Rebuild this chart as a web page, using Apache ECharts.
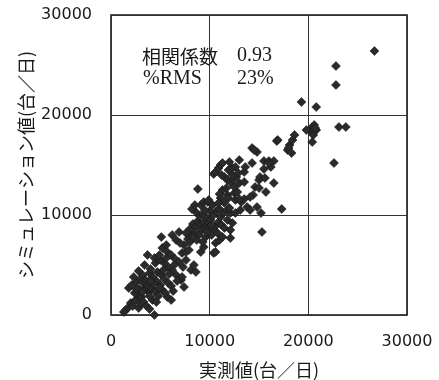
<!DOCTYPE html>
<html>
<head>
<meta charset="utf-8">
<script src="https://cdn.jsdelivr.net/npm/echarts@6/dist/echarts.min.js"></script>
<style>
html,body{margin:0;padding:0;background:#fff;}
#chart{width:439px;height:380px;}
</style>
</head>
<body>
<div id="chart"></div>
<script>
const xAxisName = '実測値(台／日)';
const yAxisName = 'シミュレーション値(台／日)';
const tickValues = [0, 10000, 20000, 30000];
const statLabels = ['相関係数', '%RMS'];
const statValues = ['0.93', '23%'];

const lowerPoints = [
[1500,500],[1700,700],[1300,300],[2000,1200],[2200,900],[2500,1500],[2800,700],[3000,1100],[2700,2000],[3100,1800],
[3300,1300],[3600,900],[3900,600],[4400,0],[4200,1500],[3800,2300],[3500,2700],[2900,2600],[2400,2200],[1800,2700],
[2100,3000],[2600,3300],[3000,3600],[3300,3200],[3700,3000],[4100,2700],[4500,2300],[4800,1900],[5200,2500],[5700,1800],
[6100,1500],[5000,3000],[4600,3400],[4200,3800],[3900,4200],[3400,5000],[3700,6000],[4400,5700],[4500,5200],[4000,4600],
[4700,4300],[5100,4000],[5400,3600],[5800,3200],[6100,2900],[7100,3500],[7400,2800],[7200,3800],[6600,4000],[6200,4500],
[5800,4800],[5400,5200],[5000,5500],[4900,6000],[5200,6700],[5600,7000],[5700,6300],[6100,6000],[6500,5600],[6900,5300],
[7300,4800],[8100,4500],[8600,4300],[8400,5000],[7600,5500],[7200,6200],[7600,6300],[7900,6500],[5100,7800],[6200,8000],
[6600,7500],[6900,8300],[3200,4000],[2800,4400],[2300,3800],[3500,3500],[4300,3100],[4900,2700],[5500,2200],[6300,2400],
[3900,1900],[3200,2300],[2600,2600],[4600,1300],[4000,3400],[5300,4500],[5900,4100],[6700,3400],[6400,5000],[5600,5700]
];
const middlePoints = [
[7400,7000],[7800,7600],[8100,8100],[8000,8600],[8300,9100],[8600,8800],[8800,9400],[9100,9000],[9400,9300],[9700,9700],
[9900,9200],[10100,9500],[8500,8200],[8900,8000],[9200,8500],[9600,8700],[10000,8800],[10300,8600],[10600,8900],[10900,9300],
[11200,9000],[11500,8700],[11800,9500],[12100,8500],[12300,9200],[9000,9900],[9300,10100],[8600,10300],[8200,10600],[8500,11000],
[9100,11000],[9400,11300],[9800,11300],[9900,11500],[8800,12600],[10600,7200],[11000,7500],[11300,7800],[12100,7700],[9100,6300],
[9400,6800],[10400,6200],[10600,6300],[7000,7200],[7600,8200],[8000,7300],[8700,7500],[9600,7800],[10200,8000],[10800,8200],
[11100,9800],[11400,10200],[11800,10500],[12100,10200],[10400,10000],[10700,10400],[11000,10600],[10000,10400],[9500,10500],[10300,11000],
[11100,11700],[11500,11200],[12000,10700],[12600,10200],[13100,10500],[13800,10800],[14100,10500],[14800,10800],[15200,10200],[15300,8300],
[10200,9000],[9700,8300],[9300,7300],[8300,7800],[11800,12000],[12500,12200],[12800,12300],[11300,12500],[12500,12800],[11000,12100],
[11900,11700],[12600,11500],[13200,11300],[13500,11600],[10900,11200]
];
const upperPoints = [
[10400,14100],[10600,14300],[10900,14700],[11100,15000],[11300,15200],[11500,13800],[11800,13500],[12100,13300],[12400,13600],[12700,13800],
[12300,14000],[11900,14500],[12300,14700],[12600,14800],[13500,14300],[13000,13200],[13500,13300],[13000,11600],[14400,12000],[14600,12800],
[15000,13500],[15100,13800],[15500,14600],[15600,13700],[16500,13200],[15000,12700],[14300,15200],[14300,16700],[14800,16300],[14500,16500],
[15500,15400],[16000,15400],[16500,15400],[16200,14800],[16000,15200],[16800,17400],[16900,17500],[17300,10600],[17900,16500],[18100,17000],
[18000,16700],[18400,17500],[18600,18000],[18300,16200],[12000,15300],[13000,15500],[13600,14800],[11700,12700],[14100,11800],[15700,12300],
[11200,14000],[12900,14200]
];
const highPoints = [
[20400,18800],[20600,19000],[20800,18500],[20300,18300],[20500,18000],[20700,18700],[20400,17300],[19300,21300],[20800,20800],[22800,24900],
[22800,23000],[26700,26400],[23100,18800],[23800,18800],[22600,15200],[19800,18500]
];

const allPoints = lowerPoints.concat(middlePoints, upperPoints, highPoints);

const chart = echarts.init(document.getElementById('chart'), null, {renderer: 'canvas'});
const tickFont = {fontFamily: 'DejaVu Sans', fontSize: 16, color: '#1a1a1a', formatter: function (v) { return String(v); }};
const cjkFont = 'Noto Sans CJK JP';

chart.setOption({
  animation: false,
  backgroundColor: '#fff',
  grid: {left: 111, top: 15, right: 32, bottom: 65, containLabel: false, outerBoundsMode: 'none',
         show: true, borderColor: '#111', borderWidth: 1.5, backgroundColor: 'transparent'},
  xAxis: {
    type: 'value', min: tickValues[0], max: tickValues[tickValues.length - 1], interval: 10000,
    name: xAxisName, nameLocation: 'middle', nameGap: 46, nameMoveOverlap: false,
    nameTextStyle: {fontFamily: cjkFont, fontSize: 18, color: '#1a1a1a'},
    axisLine: {show: false}, axisTick: {show: false},
    axisLabel: Object.assign({margin: 19}, tickFont),
    splitLine: {show: true, lineStyle: {color: '#333', width: 1}}
  },
  yAxis: {
    type: 'value', min: tickValues[0], max: tickValues[tickValues.length - 1], interval: 10000,
    name: yAxisName, nameLocation: 'middle', nameGap: 76, nameRotate: 90, nameMoveOverlap: false,
    nameTextStyle: {fontFamily: cjkFont, fontSize: 18, color: '#1a1a1a'},
    axisLine: {show: false}, axisTick: {show: false},
    axisLabel: Object.assign({margin: 19}, tickFont),
    splitLine: {show: true, lineStyle: {color: '#333', width: 1}}
  },
  graphic: [
    {type: 'text', left: 142, top: 47, style: {text: statLabels[0], font: '19px "Noto Sans CJK JP"', fill: '#1a1a1a'}},
    {type: 'text', left: 237, top: 46, style: {text: statValues[0], font: '20px "Liberation Serif"', fill: '#1a1a1a'}},
    {type: 'text', left: 143, top: 69, style: {text: statLabels[1], font: '20px "Liberation Serif"', fill: '#1a1a1a'}},
    {type: 'text', left: 237, top: 69, style: {text: statValues[1], font: '20px "Liberation Serif"', fill: '#1a1a1a'}}
  ],
  series: [{
    type: 'scatter',
    data: allPoints,
    symbol: 'diamond',
    symbolSize: [9, 9],
    itemStyle: {color: '#2b2b2b', borderColor: '#111', borderWidth: 0.5, opacity: 1},
    z: 3
  }]
});
</script>
</body>
</html>
